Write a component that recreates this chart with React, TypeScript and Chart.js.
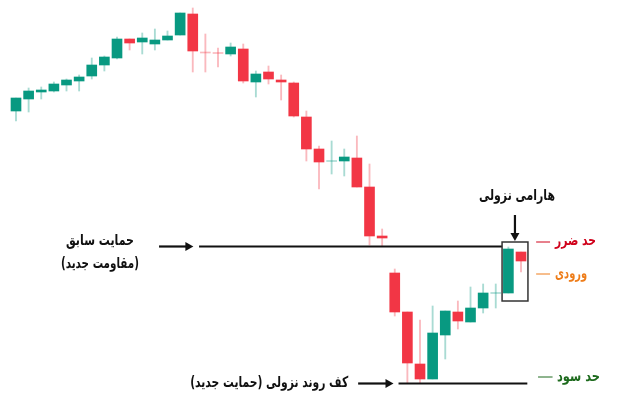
import React, { useEffect, useRef } from "react";
import { Chart, registerables } from "chart.js";

Chart.register(...registerables);

// Candle data (price units), index = candle number
const opens = [289, 301, 308, 309, 315, 319, 324, 335, 342, 361, 358, 356, 360, 365, 386, 348, 347.5, 346, 351, 318, 328, 320, 317, 283, 251, 238.5, 239, 242, 213, 164, 127, 88, 36, 21, 65, 88, 78, 92, 106.5, 107, 148];
const closes = [302, 309, 310, 316, 320, 323, 335, 343, 361, 357, 362, 360, 364, 387, 349, 347, 346.5, 353, 319, 326, 321, 318, 284, 251, 238, 239.5, 243, 213, 164, 162, 88, 37, 21, 67, 89, 79, 92, 107, 107.5, 151, 139];
const highs = [302, 312, 313, 318, 321, 325, 342, 344, 363, 361, 367, 371, 369, 387, 392, 366, 352, 357, 356, 329, 334, 325, 318, 289, 254, 259, 251, 264, 236, 171, 131, 88, 80, 94, 89, 99, 113, 116, 116, 153, 148];
const lows = [279, 288, 301, 308, 309, 309, 321, 329, 341, 350, 346, 350, 360, 365, 328, 328, 333, 344, 317, 303, 316, 300, 283, 239, 211, 226, 224, 213, 155, 154, 84, 17, 17, 21, 41, 71, 78, 87, 92, 107, 128];

// Annotation levels (price units) and spans (candle index units)
const supportLevel = 153.5;
const supportSpan = [14.5, 38.5];
const floorLevel = 16.5;
const floorSpan = [30.3, 40.5];
const haramiBox = { from: 38.5, to: 40.55, top: 158, bottom: 99 };
const stopLevel = 158;
const entryLevel = 126;
const targetLevel = 23;

const labels = {
  harami: "هارامی نزولی",
  prevSupport: "حمایت سابق",
  newResistance: "(مقاومت جدید)",
  floor: "کف روند نزولی (حمایت جدید)",
  stop: "حد ضرر",
  entry: "ورودی",
  target: "حد سود",
};

const GREEN = "#089981";
const RED = "#F23645";
const GREEN_WICK = "rgba(8,153,129,0.35)";
const RED_WICK = "rgba(242,54,69,0.35)";

export default function App() {
  const ref = useRef<HTMLCanvasElement | null>(null);

  useEffect(() => {
    if (!ref.current) return;
    const idx = opens.map((_, i) => i);
    const up = idx.map((i) => closes[i] >= opens[i]);
    const bodyColors = idx.map((i) => {
      const doji = Math.abs(closes[i] - opens[i]) < 1.5;
      if (up[i]) return doji ? GREEN_WICK : GREEN;
      return doji ? RED_WICK : RED;
    });
    const wickColors = idx.map((i) => (up[i] ? GREEN_WICK : RED_WICK));

    const annotate = {
      id: "annotate",
      afterDatasetsDraw(chart: any) {
        const ctx = chart.ctx as CanvasRenderingContext2D;
        const X = (v: number) => chart.scales.x.getPixelForValue(v);
        const Y = (v: number) => chart.scales.y.getPixelForValue(v);
        ctx.save();
        const line = (x1: number, y1: number, x2: number, y2: number, color: string, w: number) => {
          ctx.beginPath();
          ctx.strokeStyle = color;
          ctx.lineWidth = w;
          ctx.moveTo(x1, y1);
          ctx.lineTo(x2, y2);
          ctx.stroke();
        };
        const arrowRight = (x1: number, x2: number, y: number) => {
          line(x1, y, x2 - 6, y, "#111", 2.2);
          ctx.beginPath();
          ctx.fillStyle = "#111";
          ctx.moveTo(x2, y);
          ctx.lineTo(x2 - 8, y - 4.5);
          ctx.lineTo(x2 - 8, y + 4.5);
          ctx.closePath();
          ctx.fill();
        };
        // support line
        line(X(supportSpan[0]), Y(supportLevel), X(supportSpan[1]), Y(supportLevel), "#111", 2);
        // floor line
        line(X(floorSpan[0]), Y(floorLevel), X(floorSpan[1]), Y(floorLevel), "#111", 2);
        // arrows
        arrowRight(X(11.33), X(14.05), Y(supportLevel));
        arrowRight(X(27.1), X(29.9), Y(floorLevel));
        // harami box
        ctx.strokeStyle = "#333";
        ctx.lineWidth = 1.5;
        const bx = X(haramiBox.from), by = Y(haramiBox.top);
        ctx.strokeRect(bx, by, X(haramiBox.to) - bx, Y(haramiBox.bottom) - by);
        // down arrow
        const ax = X(39.52);
        line(ax, Y(185), ax, Y(166), "#111", 2.2);
        ctx.beginPath();
        ctx.fillStyle = "#111";
        ctx.moveTo(ax, Y(159));
        ctx.lineTo(ax - 4.5, Y(167));
        ctx.lineTo(ax + 4.5, Y(167));
        ctx.closePath();
        ctx.fill();
        // level dashes
        line(X(41.2), Y(stopLevel), X(42.3), Y(stopLevel), "#d0021b", 1);
        line(X(41.2), Y(entryLevel), X(42.3), Y(entryLevel), "#ee7d1a", 1);
        line(X(41.35), Y(targetLevel), X(42.5), Y(targetLevel), "#1e6b1e", 1);
        // texts
        ctx.direction = "rtl";
        ctx.textBaseline = "middle";
        ctx.font = "bold 15px 'DejaVu Sans Condensed', 'DejaVu Sans', sans-serif";
        ctx.fillStyle = "#111";
        ctx.textAlign = "center";
        ctx.fillText(labels.harami, X(39.68), Y(204), 76);
        ctx.fillText(labels.prevSupport, X(6.65), Y(159), 68);
        ctx.fillText(labels.newResistance, X(6.65), Y(136), 78);
        ctx.fillText(labels.floor, X(20.05), Y(17), 158);
        ctx.textAlign = "left";
        ctx.fillStyle = "#d0021b";
        ctx.fillText(labels.stop, X(42.7), Y(stopLevel + 1), 41);
        ctx.fillStyle = "#ee7d1a";
        ctx.fillText(labels.entry, X(42.7), Y(entryLevel), 32);
        ctx.fillStyle = "#1e6b1e";
        ctx.fillText(labels.target, X(42.85), Y(targetLevel), 43);
        ctx.restore();
      },
    };

    const chart = new Chart(ref.current, {
      type: "bar",
      data: {
        datasets: [
          {
            label: "bodies",
            data: idx.map((i) => ({ x: i, y: [opens[i], closes[i]] })) as any,
            backgroundColor: bodyColors,
            borderWidth: 0,
            barThickness: 10,
            grouped: false,
            order: 1,
          } as any,
          {
            label: "wicks",
            data: idx.map((i) => ({ x: i, y: [lows[i], highs[i]] })) as any,
            backgroundColor: wickColors,
            borderWidth: 0,
            barThickness: 1.2,
            grouped: false,
            order: 2,
          } as any,
        ],
      },
      options: {
        animation: false,
        responsive: false,
        maintainAspectRatio: false,
        layout: { padding: 0 },
        plugins: { legend: { display: false }, tooltip: { enabled: false } },
        scales: {
          x: { type: "linear", display: false, min: -1.2673, max: 48.158, offset: false } as any,
          y: { type: "linear", display: false, min: 1, max: 400 },
        },
      },
      plugins: [annotate],
    });
    return () => chart.destroy();
  }, []);

  return (
    <div style={{ position: "fixed", left: 0, top: 0, width: 624, height: 399, background: "#fff" }}>
      <canvas ref={ref} width={624} height={399} style={{ display: "block" }} />
    </div>
  );
}
